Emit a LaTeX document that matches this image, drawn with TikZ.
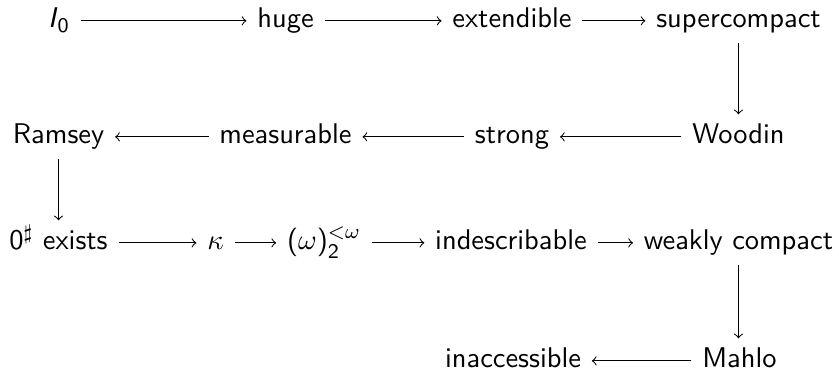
\documentclass[tikz,border=0pt]{standalone}
\begin{document}
\begin{tikzpicture}[x=0.3846pt,y=-0.3846pt,
  card/.style={font=\fontsize{10.95}{13}\selectfont\sffamily,
               inner xsep=4pt, inner ysep=3.5pt,
               text height=7.7pt, text depth=2.2pt, anchor=base},
  imp/.style={->, line width=0.4pt}]
\useasboundingbox (0,0) rectangle (839,371);
% row 1
\node[card] (i0)  at (59,28)    {\textit{I}$_{\mathsf{0}}$};
\node[card] (hu)  at (285.5,28) {huge};
\node[card] (ex)  at (512,28)   {extendible};
\node[card] (sc)  at (738.5,28) {supercompact};
% row 2
\node[card] (ra)  at (58.5,144) {Ramsey};
\node[card] (me)  at (285.5,144){measurable};
\node[card] (st)  at (512,144)  {strong};
\node[card] (wo)  at (738.5,144){Woodin};
% row 3
\node[card] (ze)  at (58.5,250) {0$^\sharp$ exists};
\node[card] (ka)  at (215.5,250){$\kappa$};
\node[card] (om)  at (324,250)  {($\omega$)$_{\mathsf{2}}^{<\omega}$};
\node[card] (in)  at (511,250)  {indescribable};
\node[card] (wc)  at (738.5,250){weakly compact};
% row 4
\node[card] (ia)  at (513,368)  {inaccessible};
\node[card] (ma)  at (739.5,368){Mahlo};
% implications
\draw[imp] (i0) -- (hu);
\draw[imp] (hu) -- (ex);
\draw[imp] (ex) -- (sc);
\draw[imp] (sc.south) -- (sc.south |- wo.north);
\draw[imp] (wo) -- (st);
\draw[imp] (st) -- (me);
\draw[imp] (me) -- (ra);
\draw[imp] (ra.south) -- (ra.south |- ze.north);
\draw[imp] (ze) -- (ka);
\draw[imp] (ka) -- (om);
\draw[imp] (om) -- (in);
\draw[imp] (in) -- (wc);
\draw[imp] (wc.south) -- (wc.south |- ma.north);
\draw[imp] (ma) -- (ia);
\end{tikzpicture}
\end{document}
